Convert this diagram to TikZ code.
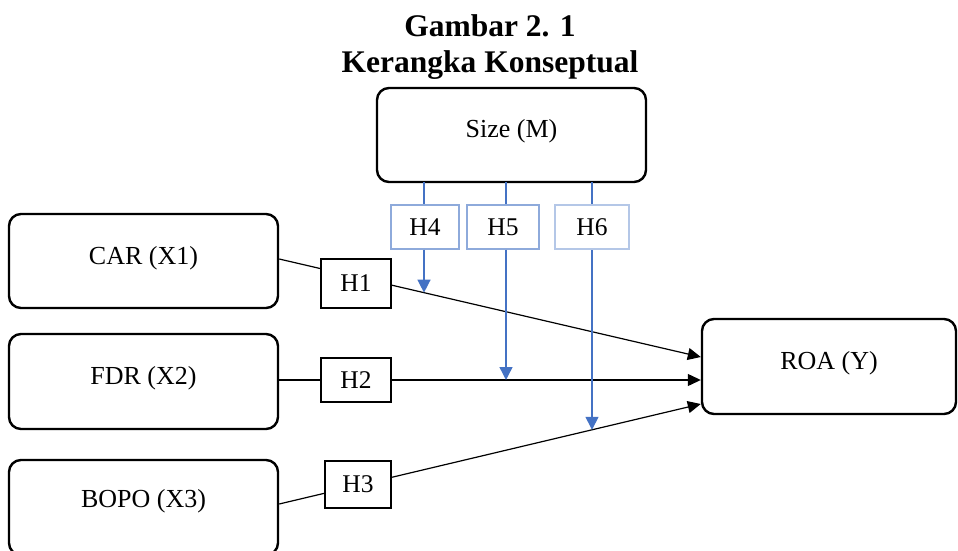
\documentclass[tikz,border=0pt]{standalone}
\usepackage{fontspec}
\setmainfont{Liberation Serif}
\usetikzlibrary{arrows.meta,intersections}

\definecolor{linkblue}{HTML}{4472C4}
\definecolor{boxblue}{HTML}{8EAADB}
\definecolor{paleblue}{HTML}{B4C7E7}

\tikzset{
  varbox/.style={draw=black, line width=2.4pt, rounded corners=12pt,
    fill=white, inner sep=0pt},
  hypbox/.style={draw=black, line width=1.2pt, fill=white, inner sep=0pt},
  modbox/.style={draw=boxblue, line width=1.2pt, fill=white, inner sep=0pt},
  vartext/.style={font=\fontsize{26}{30}\selectfont, inner sep=0pt},
  htext/.style={font=\fontsize{25.5}{30}\selectfont},
  titletext/.style={font=\fontsize{31.5}{36}\selectfont\bfseries,
    inner sep=0pt, anchor=base},
  path/.style={draw=black, line width=1.2pt,
    -{Triangle[length=13pt,width=12pt]}},
  modlink/.style={draw=linkblue, line width=1.4pt},
  modarrow/.style={modlink, -{Triangle[length=13pt,width=13pt]}}
}

\begin{document}
\begin{tikzpicture}[x=1pt,y=-1pt]
  \useasboundingbox (0,0) rectangle (958,551);
  \clip (0,0) rectangle (958,551);

  % title
  \node[titletext] (title1) at (490,37) {Gambar 2. 1};
  \node[titletext] (title2) at (490,73) {Kerangka Konseptual};

  % variable boxes
  \node[varbox, minimum width=269pt, minimum height=94pt] (size) at (511.5,135) {};
  \node[varbox, minimum width=269pt, minimum height=94pt] (car)  at (143.5,261) {};
  \node[varbox, minimum width=269pt, minimum height=95pt] (fdr)  at (143.5,381.5) {};
  \node[varbox, minimum width=269pt, minimum height=95pt] (bopo) at (143.5,507.5) {};
  \node[varbox, minimum width=254pt, minimum height=95pt] (roa)  at (829,366.5) {};

  \node[vartext] (sizeT) at ([yshift=4pt]size.center) {Size (M)};
  \node[vartext] (carT)  at ([yshift=3pt]car.center)  {CAR (X1)};
  \node[vartext] (fdrT)  at ([yshift=3pt]fdr.center)  {FDR (X2)};
  \node[vartext] (bopoT) at ([yshift=6pt]bopo.center) {BOPO (X3)};
  \node[vartext] (roaT)  at ([yshift=3pt]roa.center)  {ROA (Y)};

  % direct paths to ROA
  \draw[path, name path=p1] ([yshift=2pt]car.east)    -- ([yshift=9.5pt]roa.west);
  \draw[path, name path=p2] ([yshift=1.5pt]fdr.east)  -- ([yshift=-13.5pt]roa.west);
  \draw[path, name path=p3] ([yshift=3.5pt]bopo.east) -- ([yshift=-37.5pt]roa.west);

  % hypothesis boxes on the direct paths
  \node[hypbox, minimum width=70pt, minimum height=49pt, htext] (h1) at (356,283.5) {H1};
  \node[hypbox, minimum width=70pt, minimum height=44pt, htext] (h2) at (356,380) {H2};
  \node[hypbox, minimum width=66pt, minimum height=47pt, htext] (h3) at (358,484.5) {H3};

  % moderation boxes
  \node[modbox, minimum width=68pt, minimum height=44pt, htext] (h4) at (425,227) {H4};
  \node[modbox, minimum width=72pt, minimum height=44pt, htext] (h5) at (503,227) {H5};
  \node[modbox, draw=paleblue, line width=2.6pt,
        minimum width=74pt, minimum height=44pt, htext] (h6) at (592,227) {H6};

  % moderation links from Size
  \coordinate (m4) at (424,182);
  \coordinate (m5) at (506,182);
  \coordinate (m6) at (592,182);

  \draw[modlink] (m4) -- (m4 |- h4.north);
  \draw[modlink] (m5) -- (m5 |- h5.north);
  \draw[modlink] (m6) -- (m6 |- h6.north);

  \path[name path=v4] (m4 |- h4.south) -- ++(0,300);
  \path[name path=v5] (m5 |- h5.south) -- ++(0,300);
  \path[name path=v6] (m6 |- h6.south) -- ++(0,300);
  \path[name intersections={of=v4 and p1, by=t4}];
  \path[name intersections={of=v5 and p2, by=t5}];
  \path[name intersections={of=v6 and p3, by=t6}];

  \draw[modarrow] (m4 |- h4.south) -- (t4);
  \draw[modarrow] (m5 |- h5.south) -- (t5);
  \draw[modarrow] (m6 |- h6.south) -- (t6);
\end{tikzpicture}
\end{document}
